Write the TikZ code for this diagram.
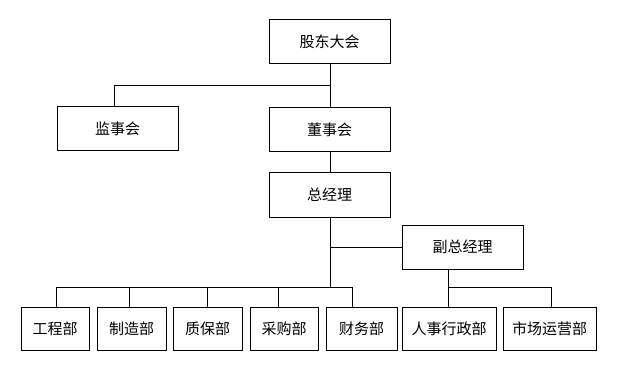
\documentclass[tikz,border=0pt]{standalone}
\usepackage{fontspec}
\setmainfont{Noto Sans CJK SC}
\begin{document}
\begin{tikzpicture}[x=1pt,y=-1pt,
  box/.style={draw, line width=1pt, inner sep=0pt, minimum height=44pt, font=\fontsize{15}{18}\selectfont},
  wide/.style={box, minimum width=121pt},
  dept/.style={box, minimum height=43pt},
  conn/.style={line width=1pt}]
\useasboundingbox (0,0) rectangle (617,371);
\fill[white] (0,0) rectangle (617,371);
% top levels
\node[wide] (gd) at (329.5,42) {股东大会};
\node[wide] (ds) at (329.5,130) {董事会};
\node[wide] (js) at (117.5,129) {监事会};
\node[wide] (zjl) at (329.5,195) {总经理};
\node[wide] (fz) at (462.5,247) {副总经理};
% departments
\node[dept, minimum width=68pt] (gc) at (55,328.5) {工程部};
\node[dept, minimum width=69pt] (zz) at (131.5,328.5) {制造部};
\node[dept, minimum width=69pt] (zb) at (207.5,328.5) {质保部};
\node[dept, minimum width=68pt] (cg) at (284,328.5) {采购部};
\node[dept, minimum width=71pt] (cw) at (361.5,328.5) {财务部};
\node[dept, minimum width=94pt] (rs) at (449,328.5) {人事行政部};
\node[dept, minimum width=93pt] (sc) at (549.5,328.5) {市场运营部};
\coordinate (busT) at (0,86);
\coordinate (busB) at (0,287);
% connectors
\draw[conn] ([xshift=1pt]gd.south) -- ([xshift=1pt]ds.north);
\draw[conn] ([xshift=-3.5pt]js.north) |- ([xshift=1pt]gd.south |- busT);
\draw[conn] ([xshift=1pt]ds.south) -- ([xshift=1pt]zjl.north);
\draw[conn] ([xshift=1pt]zjl.south) -- ([xshift=1pt]zjl.south |- busB);
\draw[conn] ([xshift=1pt]zjl.south |- fz.west) -- (fz.west);
\draw[conn] ([xshift=1pt]gc.north) |- ([xshift=-9.5pt]cw.north |- busB) -- ([xshift=-9.5pt]cw.north);
\draw[conn] ([xshift=-2.5pt]zz.north) -- ([xshift=-2.5pt]zz.north |- busB);
\draw[conn] ([xshift=-0.5pt]zb.north) -- ([xshift=-0.5pt]zb.north |- busB);
\draw[conn] ([xshift=-6pt]cg.north) -- ([xshift=-6pt]cg.north |- busB);
\draw[conn] ([xshift=-14.5pt]fz.south) -- ([xshift=-1pt]rs.north);
\draw[conn] ([xshift=-14.5pt]fz.south |- busB) -| ([xshift=1.5pt]sc.north);
\end{tikzpicture}
\end{document}
